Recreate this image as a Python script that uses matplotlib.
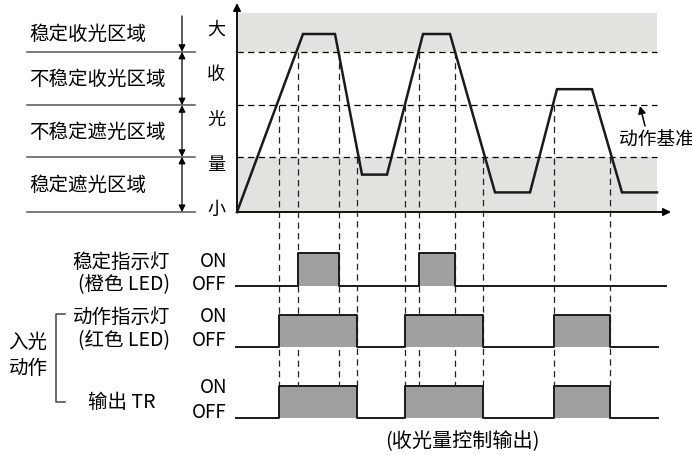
import numpy as np
import matplotlib
matplotlib.use('Agg')
import matplotlib.pyplot as plt
from matplotlib.patches import Rectangle

plt.rcParams['font.family'] = ['Noto Sans CJK SC', 'DejaVu Sans']

# light level waveform (time in arbitrary units, level in % of max)
wave_t = [0, 66, 98, 125, 150, 186, 213, 258, 293, 320, 355, 385, 420]
wave_lv = [0, 100, 100, 21, 21, 100, 100, 11, 11, 69, 69, 11, 11]

# zone thresholds (level)
lv_top = 112
lv_stable_on = 90
lv_operate = 60
lv_stable_off = 31

zone_names = ['稳定收光区域', '不稳定收光区域', '不稳定遮光区域', '稳定遮光区域']
level_chars = ['大', '收', '光', '量', '小']

# output pulses (start, end) in time units
stable_led = [(61, 102), (182, 218)]
operate_led = [(42, 120), (168, 246), (317, 373)]
output_tr = [(42, 120), (168, 246), (317, 373)]

row_labels = [('稳定指示灯', '(橙色 LED)'), ('动作指示灯', '(红色 LED)'), ('输出 TR', '')]

# layout (pixels)
W, H = 692, 456
X0, Y0, KY = 237, 213, 1.78
rows_y = [(254, 287), (316, 348), (387, 419)]
row_end = [429, 421, 421]

fig = plt.figure(figsize=(W / 100, H / 100), dpi=100)
ax = fig.add_axes([0, 0, 1, 1])
ax.set_xlim(0, W)
ax.set_ylim(H, 0)
ax.axis('off')


def tx(t):
    return X0 + np.asarray(t, dtype=float)


def ly(lv):
    return Y0 - np.asarray(lv, dtype=float) * KY


gray_band = '#e3e2de'
pulse_gray = '#a0a0a2'
t_end = 420
fs = 14

# shaded stable zones
ax.add_patch(Rectangle((tx(0), ly(lv_top)), t_end, ly(lv_stable_on) - ly(lv_top),
                       facecolor=gray_band, edgecolor='none', zorder=0))
ax.add_patch(Rectangle((tx(0), ly(lv_stable_off)), t_end, ly(0) - ly(lv_stable_off),
                       facecolor=gray_band, edgecolor='none', zorder=0))

# threshold dashed lines
for lv in [lv_stable_on, lv_operate, lv_stable_off]:
    ax.plot([tx(0), tx(t_end)], [ly(lv), ly(lv)], color='k', lw=0.9,
            dashes=(5, 3.5), zorder=1)

# axes with arrows
ax.annotate('', xy=(tx(0), 4), xytext=(tx(0), ly(0) + 0.5),
            arrowprops=dict(arrowstyle='-|>', color='k', lw=1.3, mutation_scale=11,
                            shrinkA=0, shrinkB=0))
ax.annotate('', xy=(tx(t_end) + 14, ly(0)), xytext=(tx(0), ly(0)),
            arrowprops=dict(arrowstyle='-|>', color='k', lw=1.3, mutation_scale=11,
                            shrinkA=0, shrinkB=0))

# waveform
ax.plot(tx(wave_t), ly(wave_lv), color='#1a1a1a', lw=1.8, solid_joinstyle='miter', zorder=3)

# level characters
for i, ch in enumerate(level_chars):
    ax.text(216, 30 + i * 45, ch, fontsize=13, ha='center', va='center')

# left zone labels & arrows
bounds = [lv_top, lv_stable_on, lv_operate, lv_stable_off, 0]
for lv in bounds[1:]:
    ax.plot([27, 195], [ly(lv), ly(lv)], color='#555555', lw=1.1)
arrow_x = 182
ax.annotate('', xy=(arrow_x, ly(lv_stable_on)), xytext=(arrow_x, 17),
            arrowprops=dict(arrowstyle='-|>', color='k', lw=0.9, mutation_scale=10,
                            shrinkA=0, shrinkB=0))
for a, b in zip(bounds[1:-1], bounds[2:]):
    ax.annotate('', xy=(arrow_x, ly(b)), xytext=(arrow_x, ly(a)),
                arrowprops=dict(arrowstyle='<|-|>', color='k', lw=0.9, mutation_scale=10,
                                shrinkA=0, shrinkB=0))
for i, name in enumerate(zone_names):
    top = 17 if i == 0 else ly(bounds[i])
    yc = (top + ly(bounds[i + 1])) / 2
    ax.text(29, yc, name, fontsize=fs, ha='left', va='center')

# operation reference label
ax.text(656, 139, '动作基准', fontsize=13.5, ha='center', va='center')
ax.annotate('', xy=(640, 107), xytext=(645, 127),
            arrowprops=dict(arrowstyle='-|>', color='k', lw=1.1, mutation_scale=11,
                            shrinkA=0, shrinkB=0))

# vertical dashed guide lines
guides = [(s, lv_stable_on) for p in stable_led for s in p]
guides += [(p[0], lv_operate) for p in operate_led]
guides += [(p[1], lv_stable_off) for p in operate_led]
for t, lv in guides:
    ax.plot([tx(t), tx(t)], [ly(lv), rows_y[2][0]], color='#222222', lw=0.9,
            dashes=(5, 3.5), zorder=1)

# output rows
for pulses, (yon, yoff), tend in zip([stable_led, operate_led, output_tr], rows_y, row_end):
    xs, ys = [tx(-1)], [yoff]
    for s, e in pulses:
        ax.add_patch(Rectangle((tx(s), yon), e - s, yoff - yon,
                               facecolor=pulse_gray, edgecolor='none', zorder=1))
        xs += [tx(s), tx(s), tx(e), tx(e)]
        ys += [yoff, yon, yon, yoff]
    xs.append(tx(tend))
    ys.append(yoff)
    ax.plot(xs, ys, color='#1a1a1a', lw=1.4, zorder=2)

# row labels
on_off_y = [(262, 285), (317, 341), (388, 413)]
for (l1, l2), (yon, yoff) in zip(row_labels, on_off_y):
    ax.text(227, yon, 'ON', fontsize=13.5, ha='right', va='center')
    ax.text(227, yoff, 'OFF', fontsize=13.5, ha='right', va='center')
    if l2:
        ax.text(170, yon, l1, fontsize=fs, ha='right', va='center')
        ax.text(170, yoff, l2, fontsize=fs, ha='right', va='center')
    else:
        ax.text(156, 403, l1, fontsize=fs, ha='right', va='center')

# bracket for light-on operation
ax.plot([65, 56, 56, 65], [315, 315, 403, 403], color='#444444', lw=1.1)
ax.text(28, 342, '入光', fontsize=fs, ha='center', va='center')
ax.text(28, 369, '动作', fontsize=fs, ha='center', va='center')

ax.text(462, 442, '(收光量控制输出)', fontsize=14.5, ha='center', va='center')

fig.savefig('out.png', dpi=100)
